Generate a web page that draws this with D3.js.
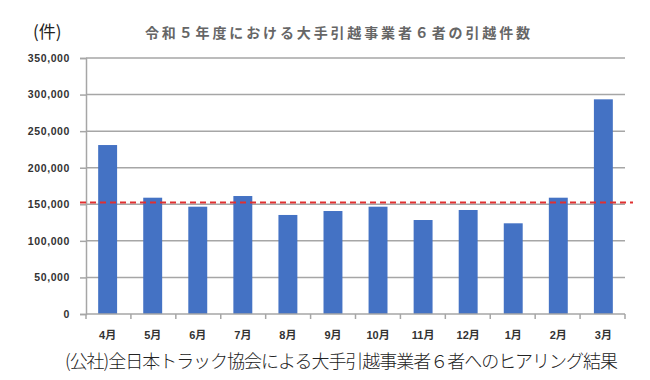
<!DOCTYPE html>
<html>
<head>
<meta charset="utf-8">
<script src="https://cdn.jsdelivr.net/npm/d3@7"></script>
<style>
  body { margin: 0; background: #fff; }
  svg { display: block; }
</style>
</head>
<body>
<svg width="650" height="380"></svg>
<script>
// Data
const months = ["4月", "5月", "6月", "7月", "8月", "9月", "10月", "11月", "12月", "1月", "2月", "3月"];
const moves = [231000, 159000, 146700, 161300, 135400, 140800, 146700, 128500, 142200, 124000, 159000, 293500];
const refLine = 152500;
const yTicks = [0, 50000, 100000, 150000, 200000, 250000, 300000, 350000];

const svg = d3.select("svg"),
  width = +svg.attr("width"),
  height = +svg.attr("height");

const margin = { top: 58, right: 25, bottom: 66, left: 86 };

const x = d3.scaleBand()
  .domain(months)
  .range([margin.left, width - margin.right])
  .paddingInner(0.58)
  .paddingOuter(0.27);

const y = d3.scaleLinear()
  .domain([0, 350000])
  .range([height - margin.bottom, margin.top]);

const grey = "#a6a6a6";

// gridlines
svg.append("g")
  .selectAll("line")
  .data(yTicks.filter(d => d > 0))
  .join("line")
  .attr("x1", margin.left)
  .attr("x2", width - margin.right)
  .attr("y1", d => y(d))
  .attr("y2", d => y(d))
  .attr("stroke", grey)
  .attr("stroke-width", 1.5);

// y axis
const yAxis = svg.append("g")
  .attr("transform", `translate(${margin.left},0)`)
  .call(d3.axisLeft(y).tickValues(yTicks).tickSize(6).tickFormat(d3.format(",")));
yAxis.select(".domain").attr("stroke", grey).attr("stroke-width", 1.5);
yAxis.selectAll(".tick line").attr("stroke", grey).attr("stroke-width", 1.5);
yAxis.selectAll("text")
  .attr("x", -16)
  .style("font-family", "'Liberation Sans', Arial, sans-serif")
  .style("font-size", "10.5px")
  .style("font-weight", "bold")
  .style("letter-spacing", "0.6px")
  .attr("fill", "#333");

// bars
svg.append("g")
  .selectAll("rect")
  .data(months)
  .join("rect")
  .attr("x", d => x(d))
  .attr("width", x.bandwidth())
  .attr("y", (d, i) => y(moves[i]))
  .attr("height", (d, i) => y(0) - y(moves[i]))
  .attr("fill", "#4472c4");

// x axis
const step = (width - margin.right - margin.left) / months.length;
svg.append("line")
  .attr("x1", margin.left)
  .attr("x2", width - margin.right)
  .attr("y1", y(0))
  .attr("y2", y(0))
  .attr("stroke", grey)
  .attr("stroke-width", 1.5);
svg.append("g")
  .selectAll("line")
  .data(d3.range(months.length + 1))
  .join("line")
  .attr("x1", i => margin.left + i * step)
  .attr("x2", i => margin.left + i * step)
  .attr("y1", y(0))
  .attr("y2", y(0) + 5)
  .attr("stroke", grey)
  .attr("stroke-width", 1.5);
svg.append("g")
  .selectAll("text")
  .data(months)
  .join("text")
  .attr("x", d => x(d) + x.bandwidth() / 2)
  .attr("y", 339)
  .attr("text-anchor", "middle")
  .style("font-family", "'Liberation Sans', 'Noto Sans CJK JP', sans-serif")
  .style("font-size", "11px")
  .style("font-weight", "bold")
  .attr("fill", "#333")
  .text(d => d);

// reference line
svg.append("line")
  .attr("x1", margin.left - 6)
  .attr("x2", width - margin.right + 8)
  .attr("y1", y(refLine))
  .attr("y2", y(refLine))
  .attr("stroke", "#e03030")
  .attr("stroke-width", 2)
  .style("stroke-dasharray", "6,4");

// unit label
svg.append("text")
  .attr("x", 33)
  .attr("y", 38)
  .style("font-family", "'Noto Sans CJK JP', sans-serif")
  .style("font-size", "17px")
  .attr("fill", "#222")
  .text("(件)");

// title
svg.append("text")
  .attr("x", 145)
  .attr("y", 38)
  .attr("textLength", 385)
  .attr("lengthAdjust", "spacing")
  .style("font-family", "'Noto Sans CJK JP', sans-serif")
  .style("font-size", "14px")
  .style("font-weight", "bold")
  .attr("fill", "#666")
  .text("令和５年度における大手引越事業者６者の引越件数");

// source
svg.append("text")
  .attr("x", 65)
  .attr("y", 368)
  .attr("textLength", 553)
  .attr("lengthAdjust", "spacing")
  .style("font-family", "'Noto Sans CJK JP', sans-serif")
  .style("font-size", "18px")
  .style("font-weight", "300")
  .attr("fill", "#222")
  .text("(公社)全日本トラック協会による大手引越事業者６者へのヒアリング結果");
</script>
</body>
</html>
